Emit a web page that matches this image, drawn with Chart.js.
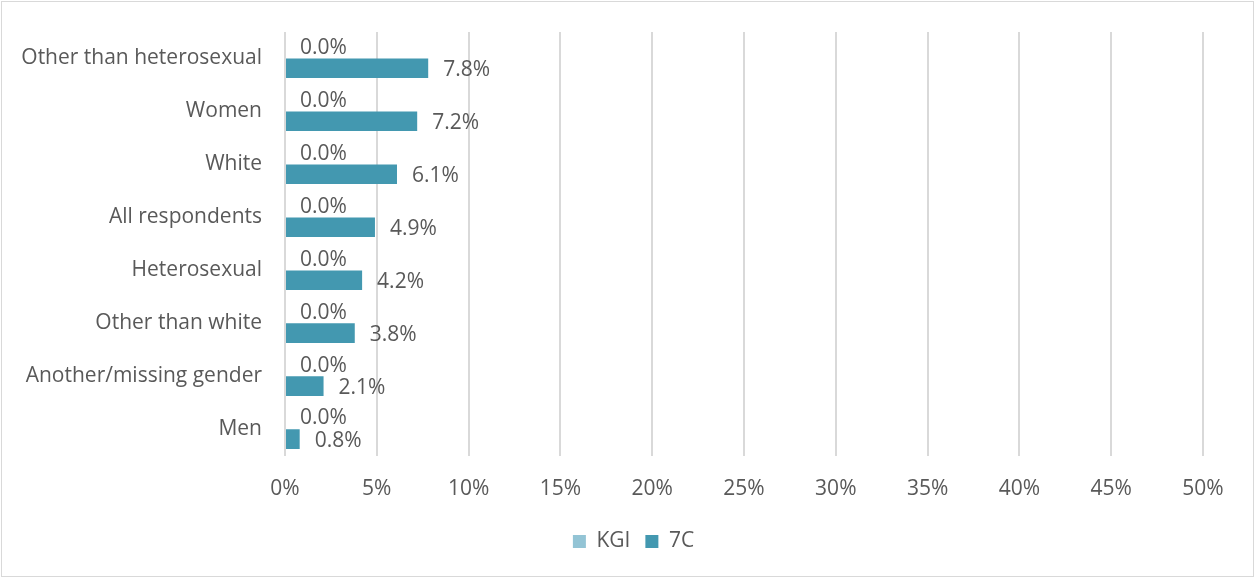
<!DOCTYPE html>
<html><head><meta charset="utf-8">
<script src="https://cdn.jsdelivr.net/npm/chart.js@4"></script>
<style>html,body{margin:0;padding:0;background:#fff}#wrap{width:1255px;height:578px}</style>
</head><body><div id="wrap"><canvas id="c" width="1255" height="578"></canvas></div>
<script>
const categories = ["Other than heterosexual","Women","White","All respondents","Heterosexual","Other than white","Another/missing gender","Men"];
const kgiValues = [0,0,0,0,0,0,0,0];
const c7Values = [7.8,7.2,6.1,4.9,4.2,3.8,2.1,0.8];
const xTicks = [0,5,10,15,20,25,30,35,40,45,50];
const seriesNames = ["KGI","7C"];

const FONT = "'Open Sans', sans-serif";
const TXT = '#595959';
const FS = 21;

const frame = {
  id:'frame',
  beforeDraw(chart){
    const ctx = chart.ctx;
    ctx.save();
    ctx.fillStyle='#fff';
    ctx.fillRect(0,0,chart.width,chart.height);
    ctx.strokeStyle='#d9d9d9';
    ctx.lineWidth=1;
    ctx.strokeRect(1.5,1.5,chart.width-3,chart.height-3);
    ctx.restore();
    const L = chart.legend;
    if (L) {
      L.left = 0; L.right = chart.width + 12;
      const h = L.bottom - L.top;
      L.top = 539 - h/2; L.bottom = L.top + h;
    }
  }
};
const labels = {
  id:'labels',
  afterDatasetsDraw(chart){
    const ctx = chart.ctx;
    ctx.save();
    ctx.fillStyle = TXT;
    ctx.font = FS + "px " + FONT;
    ctx.textAlign='left';
    ctx.textBaseline='middle';
    chart.data.datasets.forEach((ds,di)=>{
      const meta = chart.getDatasetMeta(di);
      meta.data.forEach((bar,i)=>{
        const v = ds.data[i];
        ctx.fillText(v.toFixed(1)+'%', bar.x + 15, bar.y + (di===0 ? -1 : 2));
      });
    });
    ctx.restore();
  }
};

new Chart(document.getElementById('c'), {
  type:'bar',
  data:{
    labels: categories,
    datasets:[
      {label:seriesNames[0], data:kgiValues, backgroundColor:'#93C4D5', borderWidth:0},
      {label:seriesNames[1], data:c7Values, backgroundColor:'#4398B0', borderWidth:0}
    ]
  },
  options:{
    indexAxis:'y',
    responsive:false,
    animation:false,
    devicePixelRatio:1,
    categoryPercentage:0.74,
    barPercentage:1,
    layout:{padding:{top:32,right:52,left:0,bottom:9}},
    scales:{
      x:{
        min:0,max:50,
        afterBuildTicks(axis){ axis.ticks = xTicks.map(v=>({value:v})); },
        grid:{color:'#d9d9d9', lineWidth:2, drawTicks:false},
        border:{display:false},
        ticks:{color:TXT, font:{family:FONT,size:FS}, padding:21, callback:v=>v+'%'}
      },
      y:{
        grid:{display:false, drawTicks:false},
        border:{display:false},
        afterFit(axis){ axis.width = 285; axis.paddingTop = 0; axis.paddingBottom = 0; },
        ticks:{color:TXT, font:{family:FONT,size:FS}, padding:23}
      }
    },
    plugins:{
      legend:{
        position:'bottom',
        labels:{color:TXT, font:{family:FONT,size:FS}, boxWidth:13, boxHeight:13, padding:15}
      },
      tooltip:{enabled:false}
    }
  },
  plugins:[frame,labels]
});
</script>
</body></html>
